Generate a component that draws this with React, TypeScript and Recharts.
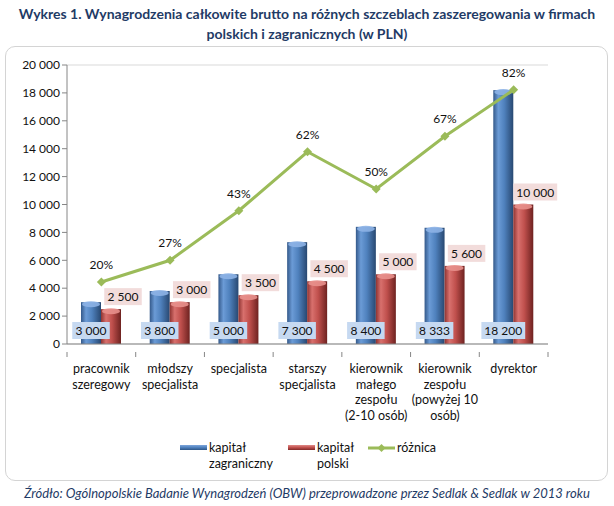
import React from 'react';
import { ComposedChart, Bar, Line, XAxis, YAxis, CartesianGrid, LabelList } from 'recharts';

const categories = [
  'pracownik\nszeregowy',
  'młodszy\nspecjalista',
  'specjalista',
  'starszy\nspecjalista',
  'kierownik\nmałego\nzespołu\n(2-10 osób)',
  'kierownik\nzespołu\n(powyżej 10\nosób)',
  'dyrektor',
];
const kapitalZagraniczny = [3000, 3800, 5000, 7300, 8400, 8333, 18200];
const kapitalPolski = [2500, 3000, 3500, 4500, 5000, 5600, 10000];
const roznica = [20, 27, 43, 62, 50, 67, 82];
const yTicks = [0, 2000, 4000, 6000, 8000, 10000, 12000, 14000, 16000, 18000, 20000];

const titleLines = [
  'Wykres 1. Wynagrodzenia całkowite brutto na różnych szczeblach zaszeregowania w firmach',
  'polskich i zagranicznych (w PLN)',
];
const sourceText = 'Źródło: Ogólnopolskie Badanie Wynagrodzeń (OBW) przeprowadzone przez Sedlak & Sedlak w 2013 roku';

const data = categories.map((cat, i) => ({
  cat,
  zagr: kapitalZagraniczny[i],
  pol: kapitalPolski[i],
  diff: roznica[i],
}));

const FONT = 'Lato, "Open Sans", sans-serif';
const NAVY = '#1f3b66';
const GREEN = '#9bbb59';
const AXIS = '#868686';

const fmt = (v: number) => String(v).replace(/\B(?=(\d{3})+(?!\d))/g, ' ');

const CylinderBar = (props: any) => {
  const { x, y, width, height, gradId, cap } = props;
  if (!height || height <= 0) return null;
  return (
    <g>
      <rect x={x} y={y} width={width} height={height} fill={`url(#${gradId})`} />
      <ellipse cx={x + width / 2} cy={y + 2} rx={width / 2 - 1} ry={3} fill={cap} opacity={0.9} />
    </g>
  );
};

const boxWidth = (txt: string) => txt.length * 6.3 + 6;

const BlueLabel = (props: any) => {
  const { x, y, width, height, value } = props;
  const txt = fmt(value);
  const w = boxWidth(txt);
  const cx = x + width / 2;
  const bottom = y + height;
  return (
    <g>
      <rect x={cx - w / 2} y={bottom - 22} width={w} height={17} fill="#c6d9f1" />
      <text x={cx} y={bottom - 9} textAnchor="middle" fontSize={12} fill="#111" fontFamily={FONT}>{txt}</text>
    </g>
  );
};

const RedLabel = (props: any) => {
  const { x, y, width, value } = props;
  const txt = fmt(value);
  const w = boxWidth(txt);
  const cx = x + width / 2 + 12;
  return (
    <g>
      <rect x={cx - w / 2} y={y - 21} width={w} height={17} fill="#f2dcdb" />
      <text x={cx} y={y - 8} textAnchor="middle" fontSize={12} fill="#111" fontFamily={FONT}>{txt}</text>
    </g>
  );
};

const PctLabel = (props: any) => {
  const { x, y, value } = props;
  return (
    <text x={x} y={y - 13} textAnchor="middle" fontSize={12} fill="#111" fontFamily={FONT}>{`${value}%`}</text>
  );
};

const Diamond = (props: any) => {
  const { cx, cy } = props;
  if (cx == null || cy == null) return null;
  const s = 4.5;
  return <path d={`M${cx},${cy - s} L${cx + s},${cy} L${cx},${cy + s} L${cx - s},${cy} Z`} fill={GREEN} />;
};

const CategoryTick = (props: any) => {
  const { x, y, payload, index, visibleTicksCount } = props;
  const half = payload.offset || 34.35;
  const lines = String(payload.value).split('\n');
  const last = index === (visibleTicksCount ?? categories.length) - 1;
  return (
    <g>
      <line x1={x - half} y1={y} x2={x - half} y2={y + 5} stroke={AXIS} />
      {last && <line x1={x + half} y1={y} x2={x + half} y2={y + 5} stroke={AXIS} />}
      <text textAnchor="middle" fontSize={12.5} fill="#111" fontFamily={FONT}>
        {lines.map((l, i) => (
          <tspan key={i} x={x} y={y + 21 + i * 15.7}>{l}</tspan>
        ))}
      </text>
    </g>
  );
};

const legendItems = [
  { lines: ['kapitał', 'zagraniczny'], kind: 'bar', grad: 'linear-gradient(#7ea6dc, #4f81bd 50%, #2f5686)', left: 180 },
  { lines: ['kapitał', 'polski'], kind: 'bar', grad: 'linear-gradient(#e08a87, #c0504d 50%, #7f2a28)', left: 288 },
  { lines: ['różnica'], kind: 'line', grad: GREEN, left: 368 },
];

export default function App() {
  return (
    <div style={{ position: 'absolute', left: 0, top: 0, width: 614, height: 506, background: '#fff', fontFamily: FONT, overflow: 'hidden' }}>
      <div style={{ position: 'absolute', left: 0, top: 4, width: 614, textAlign: 'center', fontWeight: 700, fontSize: 14, lineHeight: '20px', color: NAVY }}>
        {titleLines.map((t, i) => <div key={i}>{t}</div>)}
      </div>
      <div style={{ position: 'absolute', left: 5, top: 46, width: 601, height: 433, border: '1px solid #d4d4d4', borderRadius: 10 }} />
      <div style={{ position: 'absolute', left: 0, top: 0 }}>
        <ComposedChart width={614} height={506} data={data} margin={{ top: 65, right: 66, bottom: 92, left: 7 }} barSize={20} barGap={0}>
          <defs>
            <linearGradient id="gBlue" x1="0" y1="0" x2="1" y2="0">
              <stop offset="0%" stopColor="#34598a" />
              <stop offset="25%" stopColor="#6b9bd6" />
              <stop offset="55%" stopColor="#4f81bd" />
              <stop offset="100%" stopColor="#284871" />
            </linearGradient>
            <linearGradient id="gRed" x1="0" y1="0" x2="1" y2="0">
              <stop offset="0%" stopColor="#8e3331" />
              <stop offset="25%" stopColor="#d8706d" />
              <stop offset="55%" stopColor="#c0504d" />
              <stop offset="100%" stopColor="#6e2220" />
            </linearGradient>
          </defs>
          <CartesianGrid vertical={false} stroke="#d9d9d9" />
          <XAxis dataKey="cat" axisLine={{ stroke: AXIS }} tickLine={false} tick={<CategoryTick />} height={70} interval={0} />
          <YAxis
            yAxisId="left"
            domain={[0, 20000]}
            ticks={yTicks}
            tickFormatter={fmt}
            axisLine={{ stroke: AXIS }}
            tickLine={{ stroke: AXIS }}
            tickSize={5}
            width={60}
            tick={{ fontSize: 12, fill: '#111', fontFamily: FONT }}
          />
          <YAxis yAxisId="pct" orientation="right" domain={[0, 90]} hide />
          <Bar yAxisId="left" dataKey="zagr" name="kapitał zagraniczny" fill="#4f81bd" isAnimationActive={false}
            shape={(p: any) => <CylinderBar {...p} gradId="gBlue" cap="#8db3e6" />}>
            <LabelList dataKey="zagr" content={<BlueLabel />} />
          </Bar>
          <Bar yAxisId="left" dataKey="pol" name="kapitał polski" fill="#c0504d" isAnimationActive={false}
            shape={(p: any) => <CylinderBar {...p} gradId="gRed" cap="#e8908c" />}>
            <LabelList dataKey="pol" content={<RedLabel />} />
          </Bar>
          <Line yAxisId="pct" dataKey="diff" name="różnica" stroke={GREEN} strokeWidth={3} dot={<Diamond />} activeDot={false} isAnimationActive={false}>
            <LabelList dataKey="diff" content={<PctLabel />} />
          </Line>
        </ComposedChart>
      </div>
      {legendItems.map((it, i) => (
        <div key={i} style={{ position: 'absolute', left: it.left, top: 440 }}>
          {it.kind === 'bar' ? (
            <div style={{ position: 'absolute', left: 0, top: 5, width: 27, height: 5, background: it.grad }} />
          ) : (
            <svg style={{ position: 'absolute', left: 0, top: 2 }} width={27} height={12}>
              <line x1={0} y1={6} x2={27} y2={6} stroke={GREEN} strokeWidth={3} />
              <path d="M13.5,2 L17.5,6 L13.5,10 L9.5,6 Z" fill={GREEN} />
            </svg>
          )}
          <div style={{ position: 'absolute', left: 29, top: 0, fontSize: 12.5, lineHeight: '15.5px', color: '#111', whiteSpace: 'nowrap' }}>
            {it.lines.map((l, j) => <div key={j}>{l}</div>)}
          </div>
        </div>
      ))}
      <div style={{ position: 'absolute', left: 0, top: 485, width: 614, textAlign: 'center', fontStyle: 'italic', fontSize: 13, lineHeight: '16px', color: NAVY }}>
        {sourceText}
      </div>
    </div>
  );
}
